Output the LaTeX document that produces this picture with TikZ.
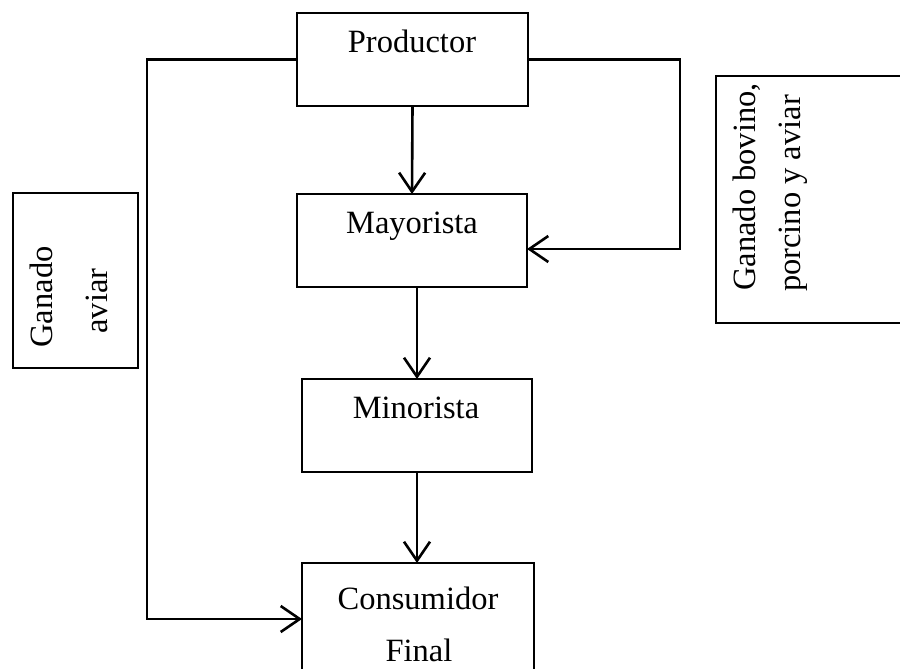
\documentclass[tikz,border=0pt]{standalone}
\usepackage{fontspec}
\setmainfont{Liberation Serif}
\usetikzlibrary{arrows.meta}
\begin{document}
\begin{tikzpicture}[x=1pt,y=-1pt,
  box/.style={draw, line width=1.4pt, inner sep=0pt, outer sep=0pt, anchor=north west},
  lbl/.style={font=\fontsize{32.5}{32.5}\selectfont, anchor=base, inner sep=0pt},
  conn/.style={line width=2.6pt, -{Straight Barb[length=19pt,width=26pt,line width=2.6pt]}}]
\clip (0,0) rectangle (900,669);
\fill[white] (0,0) rectangle (900,669);
% boxes
\node[box, minimum width=231pt, minimum height=93pt] (prod) at (297,13) {};
\node[box, minimum width=230pt, minimum height=93pt] (may) at (297,194) {};
\node[box, minimum width=230pt, minimum height=93pt] (min) at (302,379) {};
\node[box, minimum width=232pt, minimum height=140pt] (cons) at (302,563) {};
\node[box, minimum width=125pt, minimum height=175pt] (left) at (13,193) {};
\node[box, minimum width=200pt, minimum height=247pt] (right) at (716,76) {};
% labels
\node[lbl] (prodt) at (412,53) {Productor};
\node[lbl] (mayt) at (412,233) {Mayorista};
\node[lbl] (mint) at (416,418) {Minorista};
\node[lbl] (cons1) at (418,609) {Consumidor};
\node[lbl] (cons2) at (419,661) {Final};
\node[lbl, rotate=90] (lt1) at (52,297) {Ganado};
\node[lbl, rotate=90] (lt2) at (107,301) {aviar};
\node[lbl, rotate=90, anchor=base west] (rt1) at (755,291) {Ganado bovino,};
\node[lbl, rotate=90, anchor=base west] (rt2) at (800,292) {porcino y aviar};
% connectors
\draw[conn] (prod.south) -- (may.north);
\draw[conn] (min.north |- may.south) -- (min.north);
\draw[conn] (min.south) -- (min.south |- cons.north);
\coordinate (lcorner) at (147,619);
\draw[conn] (prod.west) -- (lcorner |- prod.west) -- (lcorner) -- (lcorner -| cons.west);
\coordinate (rcorner) at (680,249);
\draw[conn] (prod.east) -- (rcorner |- prod.east) -- (rcorner) -- (rcorner -| may.east);
\end{tikzpicture}
\end{document}
